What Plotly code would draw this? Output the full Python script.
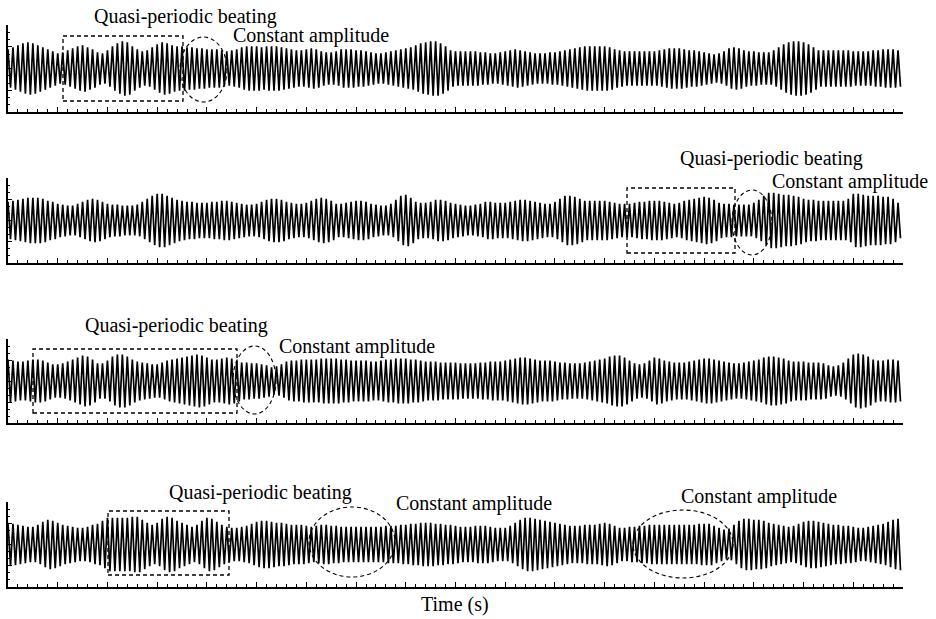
import plotly.graph_objects as go

# ---------------- data ----------------
time_range = [0, 18]
cycle_period = 0.1  # s, one oscillation per 0.1 s

# peak amplitude of each oscillation cycle (arbitrary units, axis spans -43..43)
amp_panel1 = [
    19, 21, 23, 25, 26, 25, 23, 21, 19, 17,
    15, 16, 18, 20, 22, 23, 21, 19, 16, 15,
    18, 22, 25, 27, 26, 22, 19, 17, 18, 21,
    24, 26, 25, 23, 22, 22, 21, 21, 20, 20,
    19, 19, 19, 18, 17, 18, 19, 21, 22, 22,
    22, 21, 22, 22, 22, 21, 20, 19, 18, 18,
    19, 20, 19, 17, 16, 16, 17, 19, 19, 19,
    18, 18, 17, 16, 15, 15, 16, 17, 18, 19,
    20, 21, 23, 25, 26, 27, 27, 25, 22, 18,
    17, 17, 17, 17, 17, 16, 16, 15, 15, 16,
    17, 18, 19, 18, 17, 16, 15, 15, 15, 16,
    16, 17, 18, 19, 20, 21, 22, 22, 22, 22,
    22, 21, 19, 18, 17, 17, 17, 17, 17, 17,
    17, 18, 19, 20, 20, 20, 19, 18, 18, 17,
    16, 15, 14, 15, 17, 20, 21, 20, 18, 17,
    17, 16, 16, 16, 18, 21, 24, 26, 27, 27,
    26, 24, 21, 18, 18, 18, 18, 18, 18, 18,
    17, 17, 17, 17, 18, 18, 19, 19, 19, 18,
]
amp_panel2 = [
    19, 20, 21, 22, 23, 23, 23, 22, 20, 19,
    17, 16, 15, 15, 17, 19, 21, 22, 21, 19,
    17, 16, 16, 15, 15, 15, 16, 19, 22, 25,
    27, 27, 25, 23, 21, 20, 19, 19, 18, 18,
    18, 19, 19, 20, 20, 19, 18, 17, 16, 16,
    17, 19, 21, 22, 22, 21, 19, 18, 17, 17,
    18, 20, 22, 23, 22, 20, 17, 17, 18, 19,
    20, 20, 19, 17, 16, 15, 15, 17, 21, 25,
    26, 23, 19, 18, 18, 19, 21, 21, 20, 18,
    17, 16, 15, 15, 16, 17, 19, 19, 18, 18,
    18, 19, 20, 21, 21, 20, 19, 18, 17, 17,
    19, 22, 25, 25, 24, 22, 20, 20, 20, 20,
    20, 19, 18, 17, 17, 17, 18, 19, 19, 20,
    20, 20, 19, 18, 17, 18, 20, 21, 22, 23,
    24, 23, 21, 18, 17, 17, 16, 16, 16, 16,
    18, 21, 25, 28, 28, 27, 26, 26, 25, 24,
    22, 21, 21, 20, 20, 20, 20, 20, 20, 22,
    27, 27, 26, 25, 25, 25, 24, 24, 22, 18,
]
amp_panel3 = [
    22, 21, 20, 20, 21, 22, 22, 21, 19, 17,
    17, 18, 20, 22, 24, 26, 25, 22, 18, 18,
    21, 25, 27, 27, 25, 22, 20, 19, 18, 17,
    17, 19, 21, 22, 23, 24, 25, 26, 27, 26,
    24, 22, 22, 23, 24, 23, 21, 19, 19, 18,
    18, 17, 16, 14, 15, 17, 20, 21, 21, 22,
    22, 22, 22, 23, 23, 23, 23, 22, 22, 21,
    21, 21, 21, 20, 20, 21, 22, 22, 23, 23,
    23, 22, 22, 21, 20, 20, 20, 19, 19, 19,
    19, 18, 18, 18, 18, 19, 19, 20, 20, 20,
    21, 22, 23, 24, 24, 23, 22, 21, 21, 21,
    20, 19, 19, 18, 18, 18, 19, 20, 21, 22,
    23, 25, 26, 26, 24, 21, 18, 17, 18, 21,
    24, 23, 21, 20, 19, 19, 19, 20, 21, 22,
    23, 23, 22, 21, 20, 19, 18, 18, 19, 20,
    21, 22, 24, 25, 25, 24, 23, 21, 20, 20,
    20, 19, 19, 19, 18, 16, 15, 16, 19, 23,
    27, 28, 27, 25, 22, 21, 21, 22, 22, 21,
]
amp_panel4 = [
    22, 21, 20, 19, 18, 18, 20, 23, 25, 24,
    22, 20, 19, 18, 17, 17, 18, 20, 21, 24,
    27, 27, 27, 27, 27, 28, 28, 25, 22, 20,
    22, 26, 28, 27, 24, 22, 20, 18, 20, 24,
    27, 26, 23, 20, 18, 17, 17, 18, 19, 21,
    23, 24, 24, 23, 22, 22, 21, 20, 20, 20,
    19, 18, 19, 20, 20, 19, 19, 18, 18, 18,
    18, 18, 18, 18, 18, 18, 19, 19, 19, 20,
    20, 21, 21, 22, 22, 22, 21, 21, 20, 20,
    19, 18, 18, 18, 19, 19, 19, 18, 17, 17,
    17, 19, 22, 25, 27, 27, 26, 25, 24, 23,
    22, 21, 20, 19, 19, 19, 20, 20, 20, 21,
    22, 21, 19, 17, 17, 18, 18, 19, 19, 20,
    20, 20, 20, 20, 20, 20, 20, 20, 20, 21,
    21, 21, 19, 17, 15, 16, 20, 24, 26, 26,
    25, 25, 24, 22, 21, 20, 19, 18, 19, 21,
    23, 24, 24, 23, 22, 21, 20, 20, 19, 19,
    18, 17, 17, 18, 19, 20, 21, 23, 25, 26,
]

panel_amps = [amp_panel1, amp_panel2, amp_panel3, amp_panel4]

# annotation texts
label_beating = "Quasi-periodic beating"
label_constant = "Constant amplitude"
x_title = "Time (s)"

# ---------------- layout helpers ----------------
W, H = 936, 619
FONT = "Liberation Serif, Times New Roman, serif"


def px(x):
    return x / W


def py(y):
    return 1 - y / H


x_dom = [px(8), px(903)]
panel_px = [(25, 112), (178, 263), (339, 423), (502, 587)]

fig = go.Figure()
layout_axes = {}
for k, amp in enumerate(panel_amps):
    xs, ys = [], []
    for i, a in enumerate(amp):
        t = i * cycle_period
        xs += [t, t + cycle_period / 2]
        ys += [a, -a]
    sfx = "" if k == 0 else str(k + 1)
    fig.add_trace(go.Scatter(
        x=xs, y=ys, mode="lines",
        line=dict(color="black", width=1.7),
        xaxis="x" + sfx, yaxis="y" + sfx,
        showlegend=False, hoverinfo="skip",
    ))
    top, bot = panel_px[k]
    layout_axes["xaxis" + sfx] = dict(
        domain=x_dom, range=time_range, anchor="y" + sfx,
        showline=True, linecolor="black", linewidth=1.5,
        ticks="inside", ticklen=5, tickwidth=1, tickcolor="black",
        dtick=1, tick0=0, showticklabels=False,
        minor=dict(ticks="inside", ticklen=3, dtick=0.2, tickcolor="black", showgrid=False),
        showgrid=False, zeroline=False,
    )
    layout_axes["yaxis" + sfx] = dict(
        domain=[py(bot), py(top)], range=[-43, 43], anchor="x" + sfx,
        showline=True, linecolor="black", linewidth=1.5,
        ticks="inside", ticklen=4, tickwidth=1, tickcolor="black",
        dtick=21.5, tick0=-43, showticklabels=False,
        minor=dict(ticks="inside", ticklen=2, dtick=7.1667, tickcolor="black", showgrid=False),
        showgrid=False, zeroline=False,
    )

shapes = []
DASH = "4px,3px"


def rect(x0, y0, x1, y1):
    shapes.append(dict(type="rect", xref="paper", yref="paper",
                       x0=px(x0), x1=px(x1), y0=py(y1), y1=py(y0),
                       line=dict(color="black", width=1.3, dash=DASH)))


def ellipse(x0, y0, x1, y1):
    shapes.append(dict(type="circle", xref="paper", yref="paper",
                       x0=px(x0), x1=px(x1), y0=py(y1), y1=py(y0),
                       line=dict(color="black", width=1.1, dash=DASH)))


rect(63, 36, 183, 101)
ellipse(180, 37, 227, 102)
rect(627, 188, 735, 253)
ellipse(732, 190, 772, 255)
rect(33, 349, 237, 413)
ellipse(233, 346, 276, 414)
rect(108, 511, 229, 575)
ellipse(309, 507, 395, 577)
ellipse(633, 510, 733, 578)

annotations = []


def label(text, cx, cy):
    annotations.append(dict(text=text, x=px(cx), y=py(cy), xref="paper", yref="paper",
                            xanchor="center", yanchor="middle", showarrow=False,
                            font=dict(family=FONT, size=20, color="black")))


label(label_beating, 185, 16)
label(label_constant, 311, 36)
label(label_beating, 771, 158)
label(label_constant, 850, 181)
label(label_beating, 176, 325)
label(label_constant, 357, 347)
label(label_beating, 260, 493)
label(label_constant, 474, 503)
label(label_constant, 759, 496)
label(x_title, 455, 604)

fig.update_layout(
    width=W, height=H,
    margin=dict(l=0, r=0, t=0, b=0),
    paper_bgcolor="white", plot_bgcolor="white",
    shapes=shapes, annotations=annotations,
    **layout_axes,
)

fig.write_html("out.html")
